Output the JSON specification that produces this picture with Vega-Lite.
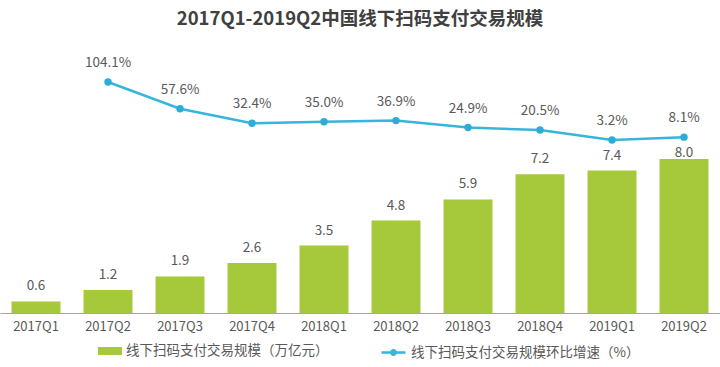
{
  "$schema": "https://vega.github.io/schema/vega-lite/v6.json",
  "width": 720,
  "height": 253,
  "autosize": {"type": "none"},
  "padding": {"top": 60, "left": 0, "right": 0, "bottom": 54},
  "background": "white",
  "config": {
    "view": {"stroke": null},
    "font": "Noto Sans CJK SC"
  },
  "title": {
    "text": "2017Q1-2019Q2中国线下扫码支付交易规模",
    "fontSize": 18.5,
    "fontWeight": "bold",
    "font": "Noto Sans CJK SC",
    "color": "#404040",
    "anchor": "middle",
    "offset": 27
  },
  "data": {
    "values": [
      {"quarter": "2017Q1", "amount": 0.6, "growth": null},
      {"quarter": "2017Q2", "amount": 1.2, "growth": 104.1},
      {"quarter": "2017Q3", "amount": 1.9, "growth": 57.6},
      {"quarter": "2017Q4", "amount": 2.6, "growth": 32.4},
      {"quarter": "2018Q1", "amount": 3.5, "growth": 35.0},
      {"quarter": "2018Q2", "amount": 4.8, "growth": 36.9},
      {"quarter": "2018Q3", "amount": 5.9, "growth": 24.9},
      {"quarter": "2018Q4", "amount": 7.2, "growth": 20.5},
      {"quarter": "2019Q1", "amount": 7.4, "growth": 3.2},
      {"quarter": "2019Q2", "amount": 8.0, "growth": 8.1}
    ]
  },
  "encoding": {
    "x": {
      "field": "quarter",
      "type": "ordinal",
      "sort": null,
      "scale": {"paddingInner": 0.32, "paddingOuter": 0.16},
      "axis": {
        "title": null,
        "labelAngle": 0,
        "labelFontSize": 13,
        "labelColor": "#595959",
        "labelFont": "Noto Sans CJK SC",
        "ticks": false,
        "labelPadding": 7,
        "domainColor": "#a6a6a6",
        "domainWidth": 1
      }
    }
  },
  "layer": [
    {
      "encoding": {
        "y": {
          "field": "amount",
          "type": "quantitative",
          "scale": {"domain": [0, 13.14], "nice": false, "zero": true},
          "axis": null
        }
      },
      "layer": [
        {
          "mark": {"type": "bar", "color": "#a5c93b"},
          "encoding": {
            "fill": {
              "datum": "线下扫码支付交易规模（万亿元）",
              "type": "nominal",
              "scale": {"range": ["#a5c93b"]},
              "legend": {
                "orient": "none",
                "legendX": 98,
                "legendY": 279,
                "title": null,
                "symbolType": "M-1,-0.33H1V0.33H-1Z",
                "symbolSize": 576,
                "symbolStrokeWidth": 0,
                "labelFontSize": 13.5,
                "labelColor": "#595959",
                "labelFont": "Noto Sans CJK SC",
                "labelOffset": 4,
                "labelLimit": 0
              }
            }
          }
        },
        {
          "transform": [{"filter": "datum.quarter != '2019Q2'"}],
          "mark": {"type": "text", "baseline": "alphabetic", "dy": -11, "fontSize": 13.5, "color": "#595959", "font": "Noto Sans CJK SC"},
          "encoding": {
            "text": {"field": "amount", "type": "quantitative", "format": ".1f"}
          }
        },
        {
          "transform": [{"filter": "datum.quarter == '2019Q2'"}],
          "mark": {"type": "text", "baseline": "alphabetic", "dy": -2, "fontSize": 13.5, "color": "#595959", "font": "Noto Sans CJK SC"},
          "encoding": {
            "text": {"field": "amount", "type": "quantitative", "format": ".1f"}
          }
        }
      ]
    },
    {
      "transform": [
        {"filter": "datum.growth != null"},
        {"calculate": "format(datum.growth, '.1f') + '%'", "as": "growthLabel"}
      ],
      "encoding": {
        "y": {
          "field": "growth",
          "type": "quantitative",
          "scale": {"domain": [-297.7, 142.3], "nice": false, "zero": false},
          "axis": null
        }
      },
      "layer": [
        {
          "mark": {"type": "line", "strokeWidth": 2.5},
          "encoding": {
            "stroke": {
              "datum": "线下扫码支付交易规模环比增速（%）",
              "type": "nominal",
              "scale": {"range": ["#35b6da"]},
              "legend": {
                "orient": "none",
                "legendX": 380,
                "legendY": 279,
                "title": null,
                "symbolType": "M-1,0H1M-0.18,0A0.18,0.18,0,1,1,0.18,0A0.18,0.18,0,1,1,-0.18,0",
                "symbolSize": 576,
                "symbolStrokeWidth": 2.5,
                "labelFontSize": 13.5,
                "labelColor": "#595959",
                "labelFont": "Noto Sans CJK SC",
                "labelOffset": 4,
                "labelLimit": 0
              }
            }
          }
        },
        {
          "mark": {"type": "point", "filled": true, "size": 55, "color": "#2aaed6", "opacity": 1},
          "encoding": {}
        },
        {
          "mark": {"type": "text", "baseline": "alphabetic", "dy": -15, "fontSize": 13.5, "color": "#595959", "font": "Noto Sans CJK SC"},
          "encoding": {
            "text": {"field": "growthLabel", "type": "nominal"}
          }
        }
      ]
    }
  ],
  "resolve": {"scale": {"y": "independent"}, "axis": {"y": "independent"}}
}
